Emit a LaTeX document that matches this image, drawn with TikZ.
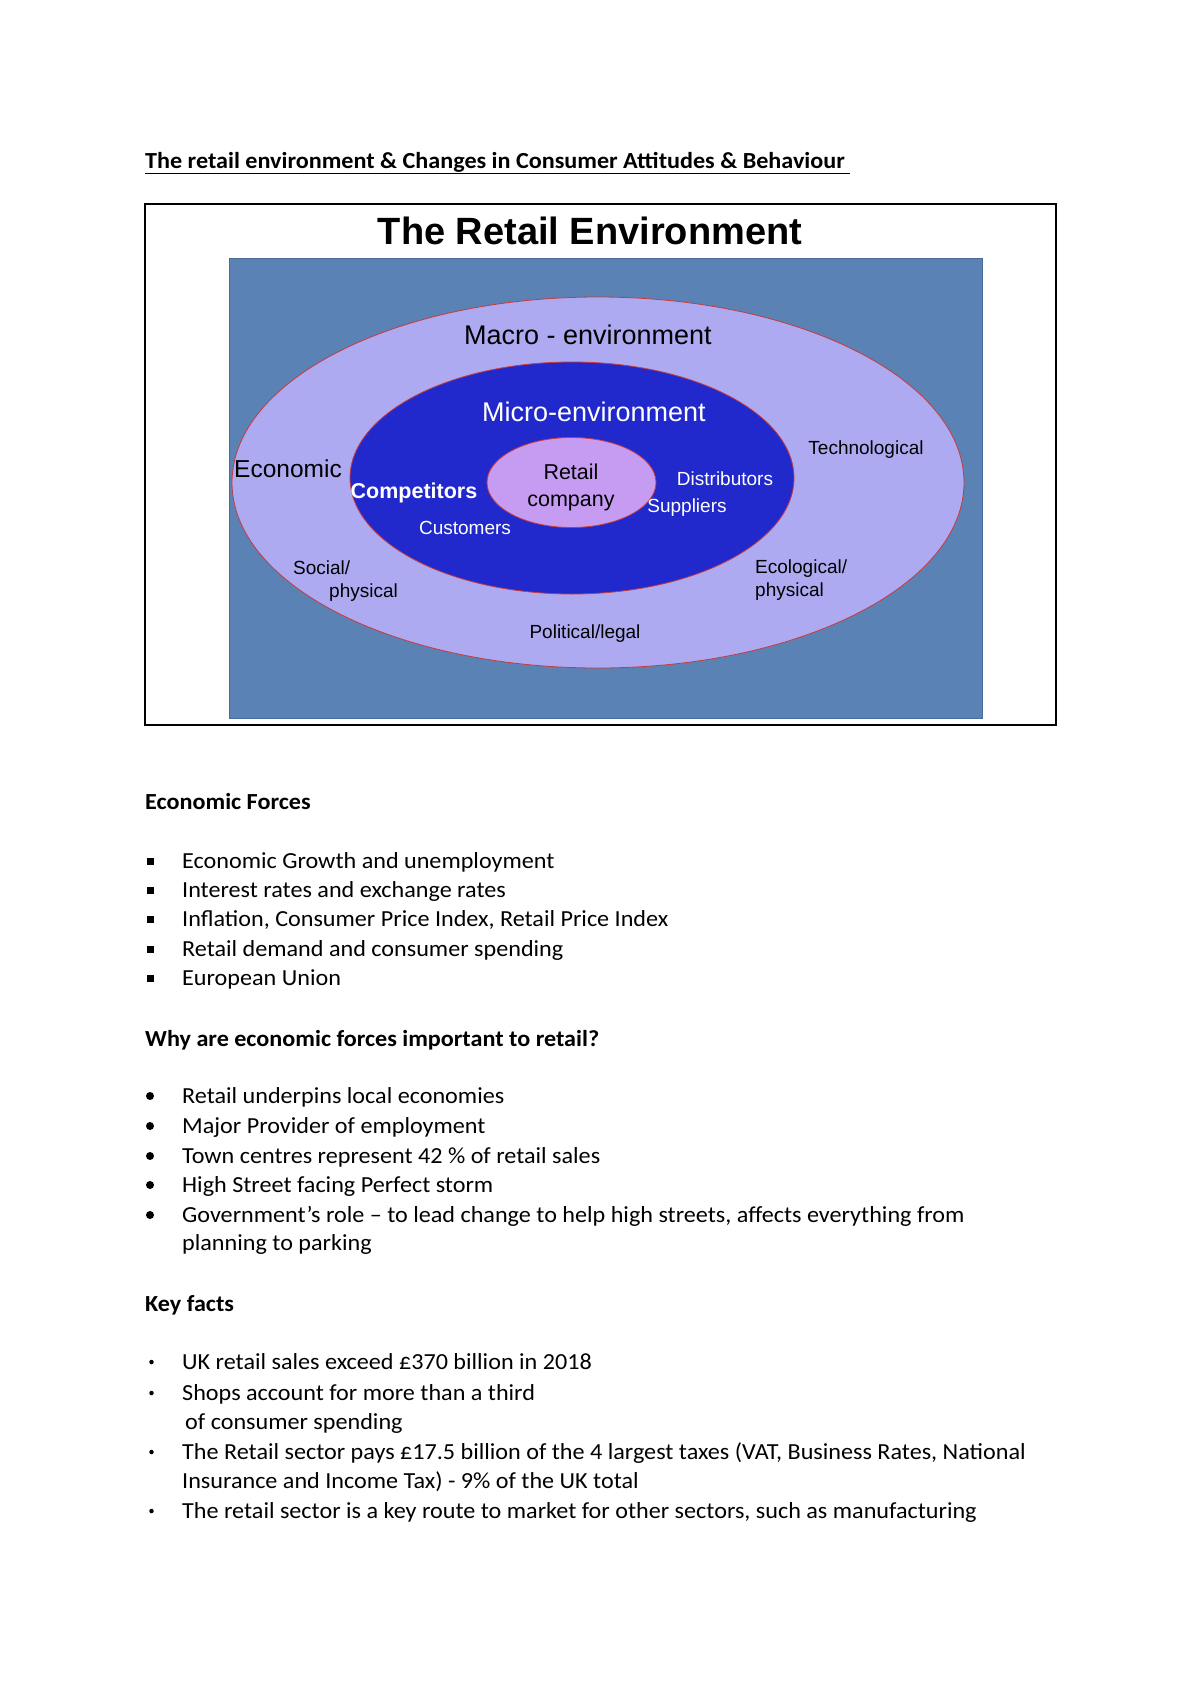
\documentclass[tikz,border=0pt]{standalone}
\usepackage{fontspec}
\setmainfont{Carlito}[FakeStretch=1.05]
\newfontfamily\arialf{Liberation Sans}
\usetikzlibrary{shapes.geometric}
\definecolor{rectblue}{HTML}{5A82B5}
\definecolor{rectedge}{HTML}{4A6C9C}
\definecolor{macrofill}{HTML}{ADAAF2}
\definecolor{microfill}{HTML}{2229CC}
\definecolor{corefill}{HTML}{C59CF2}
\definecolor{ringedge}{HTML}{C83A3A}
\begin{document}
\begin{tikzpicture}[x=1pt,y=-1pt,
  body/.style={anchor=base west, inner sep=0, font=\fontsize{23}{26}\selectfont},
  head/.style={body, font=\fontsize{23}{26}\selectfont\bfseries},
  lab/.style={inner sep=0, font=\arialf\fontsize{19}{22}\selectfont},
  wlab/.style={lab, text=white},
  sqbul/.style={fill=black, minimum size=7pt, inner sep=0, rectangle},
  dotbul/.style={fill=black, circle, minimum size=8pt, inner sep=0},
  smbul/.style={fill=black, circle, minimum size=4.5pt, inner sep=0},
  ring/.style={ellipse, draw=ringedge, line width=0.8pt, inner sep=0}]
\useasboundingbox (0,0) rectangle (1200,1698);
\fill[white] (0,0) rectangle (1200,1698);

% page title
\node[head] (title) at (145,168) {\underline{The retail environment \& Changes in Consumer Attitudes \& Behaviour\ }};

% diagram
\draw[line width=2pt] (145,204) rectangle (1056,725);
\node[inner sep=0, font=\arialf\bfseries\fontsize{38}{42}\selectfont] (dtitle) at (590,231) {The Retail Environment};
\draw[fill=rectblue, draw=rectedge, line width=1pt] (229,258) rectangle (982,718);
\node[ring, fill=macrofill, minimum width=732pt, minimum height=371pt] (macro) at (598,482.5) {};
\node[ring, fill=microfill, minimum width=444pt, minimum height=232pt] (micro) at (572,478) {};
\node[ring, fill=corefill, minimum width=169pt, minimum height=90pt] (core) at (571.5,482.5) {};

\node[lab, font=\arialf\fontsize{27}{30}\selectfont] (lmacro) at (588,335) {Macro - environment};
\node[wlab, font=\arialf\fontsize{27}{30}\selectfont] (lmicro) at (594,412) {Micro-environment};
\node[lab] (ltech) at (866,450) {Technological};
\node[lab, font=\arialf\fontsize{24.5}{27}\selectfont] (lecon) at (288,469) {Economic};
\node[lab, font=\arialf\fontsize{21.5}{27}\selectfont, align=center] (lcore) at (571,487) {Retail\\company};
\node[wlab, font=\arialf\bfseries\fontsize{21.5}{24}\selectfont] (lcomp) at (414,493) {Competitors};
\node[wlab] (ldist) at (725,479) {Distributors};
\node[wlab] (lsupp) at (687,508) {Suppliers};
\node[wlab] (lcust) at (465,528) {Customers};
\node[lab, anchor=west] (lsoc) at (293,568) {Social/};
\node[lab, anchor=west] (lsoc2) at (329,593) {physical};
\node[lab, anchor=west] (leco) at (755,569) {Ecological/};
\node[lab, anchor=west] (leco2) at (755,592) {physical};
\node[lab] (lpol) at (585,634) {Political/legal};

% Economic forces
\node[head] (h1) at (145,809) {Economic Forces};
\foreach \y/\t [count=\i] in {868/Economic Growth and unemployment,
  897/Interest rates and exchange rates,
  926/{Inflation, Consumer Price Index, Retail Price Index},
  956/Retail demand and consumer spending,
  985/European Union}{
  \node[sqbul] (ba\i) at (150.5,\y-7) {};
  \node[body] (ta\i) at (182,\y) {\t};
}

\node[head] (h2) at (145,1046) {Why are economic forces important to retail?};
\foreach \y/\t [count=\i] in {1103/Retail underpins local economies,
  1133/Major Provider of employment,
  1163/Town centres represent 42 \% of retail sales,
  1192/High Street facing Perfect storm,
  1222/{Government’s role – to lead change to help high streets, affects everything from}}{
  \node[dotbul] (bb\i) at (150,\y-7) {};
  \node[body] (tb\i) at (182,\y) {\t};
}
\node[body] (tb6) at (182,1250) {planning to parking};

\node[head] (h3) at (145,1311) {Key facts};
\node[smbul] (bc1) at (151.5,1362) {};
\node[body] (tc1) at (182,1369) {UK retail sales exceed £370 billion in 2018};
\node[smbul] (bc2) at (151.5,1393) {};
\node[body] (tc2) at (182,1400) {Shops account for more than a third};
\node[body] (tc2b) at (185,1429) {of consumer spending};
\node[smbul] (bc3) at (151.5,1452) {};
\node[body] (tc3) at (182,1459) {The Retail sector pays £17.5 billion of the 4 largest taxes (VAT, Business Rates, National};
\node[body] (tc3b) at (182,1488) {Insurance and Income Tax) - 9\% of the UK total};
\node[smbul] (bc4) at (151.5,1511) {};
\node[body] (tc4) at (182,1518) {The retail sector is a key route to market for other sectors, such as manufacturing};
\end{tikzpicture}
\end{document}
